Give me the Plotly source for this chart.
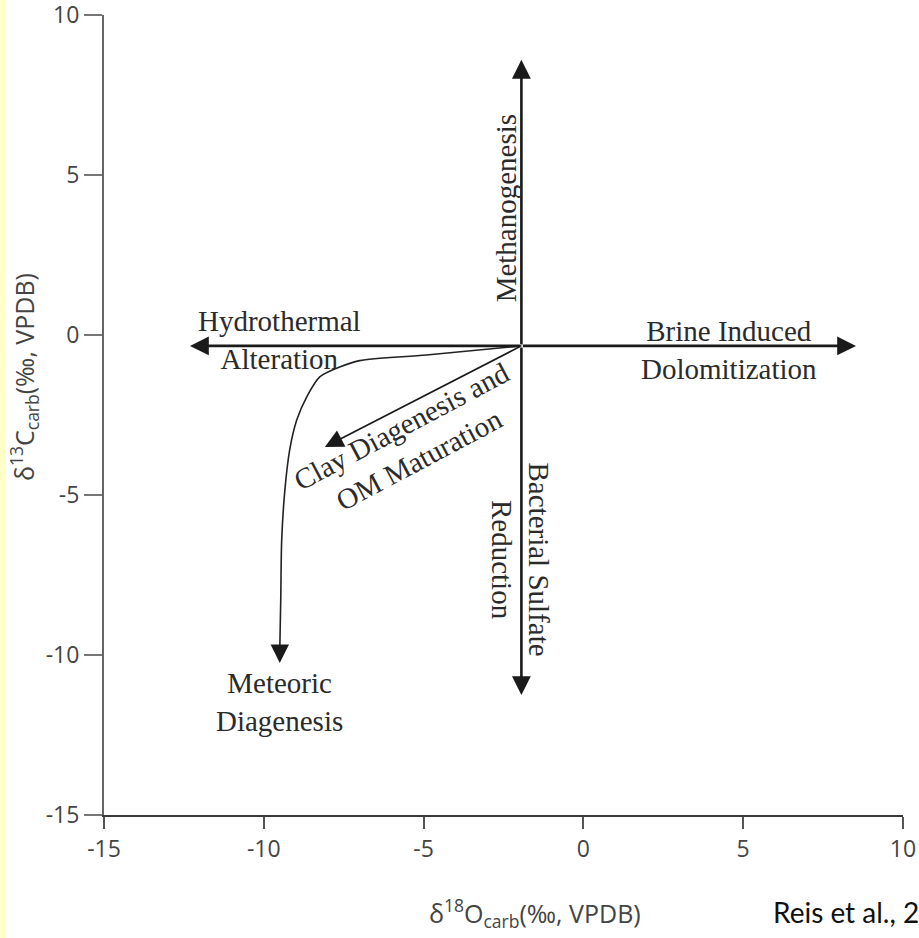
import plotly.graph_objects as go

# ---- data ----
x_ticks = [-15, -10, -5, 0, 5, 10]
y_ticks = [-15, -10, -5, 0, 5, 10]

# straight process arrows (tail -> head), all from the common origin
arrow_x0 = [-1.94, -1.94, -1.94, -1.94, -1.94]
arrow_y0 = [-0.34, -0.34, -0.34, -0.34, -0.34]
arrow_x1 = [-1.94, -1.94, 8.53, -12.31, -8.09]
arrow_y1 = [8.6, -11.25, -0.34, -0.34, -3.5]

# meteoric diagenesis curve
curve_x = [-1.94, -4.91, -7.0, -7.625, -8.25, -8.66, -8.97, -9.19, -9.34, -9.44, -9.47, -9.5]
curve_y = [-0.34, -0.625, -0.80, -1.0, -1.31, -1.94, -2.66, -3.59, -4.84, -6.41, -8.28, -9.84]
curve_tip_x = -9.5
curve_tip_y = -10.25

label_text = ["Hydrothermal<br>Alteration", "Brine Induced<br>Dolomitization", "Methanogenesis",
              "Bacterial Sulfate<br>Reduction", "Clay Diagenesis and<br>OM Maturation",
              "Meteoric<br>Diagenesis"]
label_x = [-9.5, 4.56, -2.41, -1.97, -5.41, -9.5]
label_y = [-0.16, -0.47, 3.97, -7.03, -3.375, -11.47]
label_angle = [0, 0, -90, 90, -28, 0]

# ---- figure ----
fig = go.Figure()

fig.add_trace(go.Scatter(x=curve_x, y=curve_y, mode="lines",
                         line=dict(color="#222222", width=1.6, shape="spline", smoothing=0.8),
                         hoverinfo="skip", showlegend=False))

annotations = []
for i in range(len(arrow_x0)):
    thin = (i == 4)
    annotations.append(dict(x=arrow_x1[i], y=arrow_y1[i], ax=arrow_x0[i], ay=arrow_y0[i],
                            xref="x", yref="y", axref="x", ayref="y", text="",
                            showarrow=True, arrowhead=2,
                            arrowsize=2.3 if thin else 1.45,
                            arrowwidth=1.6 if thin else 2.6,
                            arrowcolor="#1a1a1a", standoff=0, startstandoff=0))
annotations.append(dict(x=curve_tip_x, y=curve_tip_y, ax=curve_x[-1], ay=curve_y[-1],
                        xref="x", yref="y", axref="x", ayref="y", text="",
                        showarrow=True, arrowhead=2, arrowsize=2.3, arrowwidth=1.6,
                        arrowcolor="#1a1a1a", standoff=0, startstandoff=0))

for t, xx, yy, a in zip(label_text, label_x, label_y, label_angle):
    annotations.append(dict(x=xx, y=yy, xref="x", yref="y", text=t, showarrow=False,
                            textangle=a, xanchor="center", yanchor="middle", align="center",
                            font=dict(family="Liberation Serif", size=29, color="#2b2b2b")))

annotations.append(dict(x=-0.1001, y=0.5475, xref="paper", yref="paper",
                        text="δ<sup>13</sup>C<sub>carb</sub>(‰, VPDB)", textangle=-90,
                        showarrow=False, xanchor="center", yanchor="middle",
                        font=dict(family="Open Sans", size=25, color="#444444")))
annotations.append(dict(x=0.539, y=-0.1225, xref="paper", yref="paper",
                        text="δ<sup>18</sup>O<sub>carb</sub>(‰, VPDB)",
                        showarrow=False, xanchor="center", yanchor="middle",
                        font=dict(family="Open Sans", size=25, color="#444444")))
annotations.append(dict(x=0.8348, y=-0.121, xref="paper", yref="paper",
                        text="Reis et al., 2019", showarrow=False,
                        xanchor="left", yanchor="middle",
                        font=dict(family="Lato", size=28, color="#111111")))

fig.update_layout(
    width=919, height=938,
    margin=dict(l=104, r=16, t=15, b=123, autoexpand=False),
    paper_bgcolor="white", plot_bgcolor="white",
    annotations=annotations,
    shapes=[dict(type="rect", xref="paper", yref="paper", x0=-0.1302, x1=-0.1240,
                 y0=-0.154, y1=1.019, fillcolor="#FFFFC8", line=dict(width=0), layer="below")],
    showlegend=False,
)
fig.update_xaxes(range=[-15, 10], tickvals=x_ticks, ticktext=[str(v) for v in x_ticks],
                 automargin=False, ticklabeloverflow="allow",
                 showline=True, linecolor="#3a3a3a", linewidth=2, ticks="outside",
                 ticklen=12, tickwidth=1.5, tickcolor="#555555", showgrid=False, zeroline=False,
                 tickfont=dict(family="Open Sans", size=23, color="#444444"))
fig.update_yaxes(range=[-15, 10], tickvals=y_ticks, ticktext=[str(v) for v in y_ticks],
                 automargin=False, ticklabeloverflow="allow",
                 showline=True, linecolor="#666666", linewidth=2, ticks="outside",
                 ticklen=18, tickwidth=1.5, tickcolor="#777777", showgrid=False, zeroline=False,
                 tickfont=dict(family="Open Sans", size=23, color="#444444"))

fig.write_html("out.html", config={"displayModeBar": False},
               post_script="document.body.style.margin='0';document.body.style.overflow='hidden';")
